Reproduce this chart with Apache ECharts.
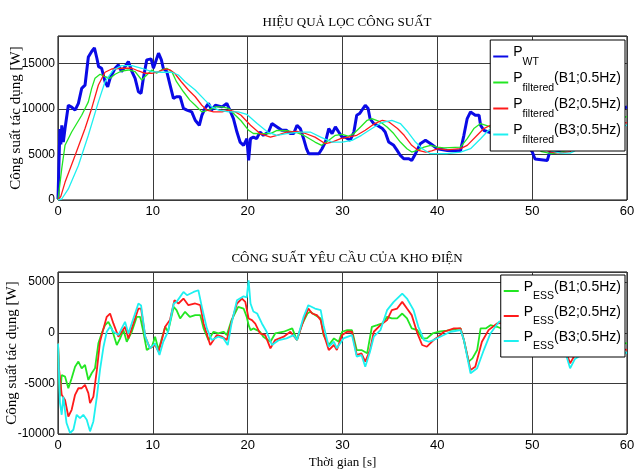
<!DOCTYPE html>
<html>
<head>
<meta charset="utf-8">
<script src="https://cdn.jsdelivr.net/npm/echarts@6/dist/echarts.min.js"></script>
<style>
  html, body { margin: 0; padding: 0; background: #fff; }
  #main { width: 635px; height: 473px; }
</style>
</head>
<body>
<div id="main"></div>
<script>
// Top plot: wind turbine power and filtered power [t (s), P (W)]
const pWT = [[0,100],[0.1,4000],[0.2,7800],[0.3,6100],[0.4,8200],[0.56,6360],[0.74,7840],[1.09,10400],[1.44,10200],[1.8,9860],[2.15,10600],[2.5,12250],[2.85,12600],[3.2,15700],[3.55,16300],[3.84,16700],[4.1,15560],[4.28,14640],[4.6,14460],[4.96,12980],[5.24,12430],[5.49,13360],[6.02,14460],[6.37,14830],[6.7,14090],[7.07,14640],[7.42,15190],[7.8,14090],[8.13,13360],[8.48,11880],[8.76,11700],[9.0,13360],[9.36,15380],[9.82,15490],[10.06,14460],[10.24,15010],[10.6,16120],[10.9,15380],[11.1,14460],[11.47,14090],[11.82,12620],[12.17,11150],[12.5,11330],[12.88,11330],[13.23,10050],[13.6,9860],[14.1,9670],[14.47,8750],[14.9,8200],[15.17,9300],[15.5,10050],[15.87,10600],[16.2,9860],[16.6,10400],[17.3,10220],[17.8,10600],[18.2,9670],[18.5,8940],[18.87,7460],[19.2,6360],[19.57,6000],[19.92,6730],[20.1,4340],[20.3,6730],[20.6,6900],[20.95,6730],[21.3,7460],[21.65,7100],[22.2,7460],[22.56,8390],[23.1,8020],[23.6,7650],[24.1,7650],[24.5,7290],[24.85,7290],[25.2,8200],[25.55,7840],[25.9,6730],[26.2,5630],[26.43,5080],[27.14,5080],[27.5,5080],[27.84,5630],[28.2,6360],[28.55,7840],[28.9,7290],[29.25,8020],[29.6,7460],[29.96,6900],[30.3,6900],[30.8,6550],[31.2,7460],[31.5,9300],[31.8,9490],[32.0,9300],[32.4,10400],[32.7,10050],[32.9,8940],[33.3,8390],[33.65,8200],[34.2,7840],[34.5,7460],[34.87,6360],[35.4,6000],[35.76,5440],[36.1,4890],[36.46,4530],[37.0,4530],[37.3,4340],[37.7,5080],[38.2,6180],[38.75,6550],[39.3,6180],[40.0,5630],[41.05,5440],[41.75,5400],[42.45,5440],[42.8,7100],[43.15,8940],[43.5,9670],[44.0,9300],[44.4,9300],[44.56,8200],[44.9,7650],[45.4,7460],[45.97,7290],[46.3,7100],[46.85,7100],[47.5,6900],[48.2,7000],[48.8,6500],[49.5,6000],[50.0,5300],[50.3,4500],[50.5,4340],[51.6,4340],[51.8,5100],[52.5,5300],[53.5,5600],[54.0,8200],[54.5,8000],[55.5,8300],[56.5,8800],[57.5,9300],[58.5,9700],[59.3,10000],[60,10200]];
const pF1 = [[0,0],[0.39,3420],[0.74,6000],[1.44,7460],[2.5,9300],[3.2,10770],[3.55,12250],[3.9,13360],[4.43,13800],[4.96,13530],[5.49,13360],[6.02,13800],[6.7,14160],[7.42,14270],[8.13,14090],[8.83,13170],[9.36,13720],[9.9,14270],[10.4,13910],[10.9,14270],[11.47,14460],[12,14090],[12.5,12980],[13.23,11880],[13.9,10960],[14.47,10400],[15.17,9670],[15.87,9860],[16.6,10220],[17.3,10220],[18,10050],[18.7,9300],[19.3,8700],[20.1,7650],[20.6,7300],[21.3,7290],[22.4,7290],[23.1,7650],[24.1,7600],[25.2,7400],[25.9,7100],[27.1,6360],[27.8,6000],[28.55,6550],[29.25,7100],[29.96,7200],[30.6,7000],[31.2,7290],[31.9,8020],[32.6,8750],[33.1,8940],[34.0,8570],[34.7,8020],[35.4,7290],[36.1,6360],[36.8,5630],[37.3,5260],[37.9,5440],[38.6,5810],[39.3,6000],[40,5810],[40.7,5720],[42.45,5810],[43.15,6730],[43.85,7840],[44.56,8390],[45.3,8140],[46.3,7650],[47.0,7290],[48,7050],[49,6800],[50,6100],[51,5300],[52,5100],[53,5250],[54,5500],[54.5,6400],[55.5,7500],[56.5,8100],[57.5,8500],[58.5,8800],[59.3,9000],[60,9150]];
const pF2 = [[0,0],[0.3,400],[0.74,1940],[1.8,4890],[2.85,7840],[3.55,10050],[4.26,12620],[4.96,14020],[5.66,14380],[6.7,14460],[7.8,14460],[8.48,14160],[9.2,13910],[9.9,13910],[10.6,14090],[11.3,14380],[11.82,14270],[12.3,13910],[13,12980],[13.75,12070],[14.47,11330],[15.17,10400],[15.7,9860],[16.4,9670],[17.3,9670],[18,9860],[18.7,9670],[19.3,9300],[20.3,8200],[21.3,7290],[22.4,6900],[23.1,7100],[24.1,7460],[25.2,7530],[26.1,7300],[27.1,6900],[28.2,6180],[28.9,6360],[29.8,6730],[30.6,6900],[31.5,7100],[32.4,7650],[33.4,8390],[34.2,8750],[34.9,8570],[35.8,7840],[36.5,7100],[37.3,6000],[38.0,5440],[38.75,5260],[39.4,5400],[40.1,5630],[41,5500],[42.45,5630],[43.15,6000],[44.2,7100],[44.9,7840],[45.6,8200],[46.3,8270],[47.0,8200],[48,7800],[49,7200],[50,6500],[51,5700],[52,5250],[53,5150],[54,5300],[54.5,5800],[55.5,6900],[56.5,7600],[57.5,8000],[58.5,8250],[59.3,8400],[60,8500]];
const pF3 = [[0,0],[0.39,110],[1.09,1210],[2.15,3790],[3.2,7100],[4.26,10770],[4.96,12980],[5.84,14270],[6.7,14750],[7.8,14750],[8.83,14460],[9.9,14090],[10.9,14020],[12,14020],[12.7,13720],[13.4,12980],[14.47,12070],[15.5,10960],[16.2,10220],[16.95,9860],[18,9670],[19.0,9670],[19.9,9400],[21,8390],[22.1,7460],[23.1,7100],[24.1,7290],[25.55,7460],[26.6,7460],[27.7,6900],[28.9,6360],[29.96,6360],[31,6550],[32,7100],[33.1,7840],[34.1,8480],[35.2,8750],[36.1,8390],[36.9,7460],[37.7,6360],[38.4,5630],[39.3,5080],[40.1,5080],[41,5080],[42.45,5260],[43.5,5630],[44.56,6730],[45.4,7650],[46.3,8140],[47.0,8200],[48,7900],[49,7400],[50,6800],[51,6000],[52,5400],[53,5150],[54,5150],[54.5,5400],[55.5,6300],[56.5,7100],[57.5,7600],[58.5,7900],[59.3,8100],[60,8200]];

// Bottom plot: storage power demand [t (s), P (W)]
const pE1 = [[0,-1000],[0.1,-4000],[0.21,-6300],[0.39,-4170],[0.74,-4330],[1.09,-5480],[1.44,-4490],[1.8,-3350],[2.15,-2850],[2.5,-3510],[2.85,-3180],[3.2,-4660],[3.55,-4000],[3.9,-3510],[4.26,-1050],[4.6,-70],[4.96,750],[5.31,1080],[5.66,430],[6.2,-1210],[6.55,-560],[6.9,260],[7.25,-890],[7.78,100],[8.3,1570],[8.66,1570],[9.0,100],[9.36,-1710],[9.9,-1380],[10.24,-390],[10.6,-1710],[10.9,-720],[11.3,590],[11.6,100],[12.2,2560],[12.5,2230],[12.88,1410],[13.4,2070],[13.9,1570],[14.47,1740],[15.0,1740],[15.35,430],[15.87,-720],[16.4,100],[16.9,-70],[17.45,100],[17.8,-230],[18.3,1250],[19.0,2560],[19.57,2390],[19.9,1570],[20.1,750],[20.3,260],[20.6,430],[21.3,100],[21.65,-390],[22.4,-890],[22.9,-70],[23.8,100],[24.7,430],[25.2,-720],[25.7,750],[26.3,1900],[26.6,2070],[27.14,1740],[27.7,1410],[28.0,-230],[28.55,-1210],[29.1,-560],[29.6,-890],[29.96,100],[30.5,260],[31.0,260],[31.5,-1710],[32.0,-1710],[32.6,-2030],[33.1,590],[33.65,750],[34.2,920],[34.7,1570],[35.2,1410],[35.76,1410],[36.3,1900],[36.8,1410],[37.3,430],[37.9,260],[38.4,-560],[38.9,-560],[39.5,-70],[40.1,100],[41.0,200],[41.75,330],[42.45,430],[42.8,-720],[43.3,-2850],[43.7,-2530],[44.2,-1710],[44.56,430],[45.1,430],[45.6,750],[46.3,590],[47.0,330],[47.7,260],[48,50],[49,300],[50,800],[51,960],[52,-200],[53,-350],[54,-2000],[54.5,-1600],[55.5,-800],[56.5,-700],[57.5,-800],[58.5,-900],[59.3,-1000],[60,-1050]];
const pE2 = [[0,-1000],[0.1,-3500],[0.39,-6130],[0.74,-6630],[1.09,-8270],[1.44,-7610],[1.8,-6130],[2.15,-5480],[2.5,-5480],[2.85,-5150],[3.2,-5970],[3.38,-6950],[3.73,-6300],[4.1,-3670],[4.43,-890],[4.8,430],[5.14,1570],[5.49,1900],[5.84,920],[6.37,-390],[6.72,100],[7.07,590],[7.42,-560],[7.95,920],[8.48,2390],[8.76,2390],[9.2,-390],[9.7,-1540],[10.24,-1210],[10.6,-1870],[10.9,-890],[11.3,590],[11.8,1250],[12.28,3210],[12.7,2890],[13.23,3380],[13.75,2720],[14.47,2890],[15.0,2720],[15.35,920],[16.05,-1210],[16.75,-230],[17.3,-390],[17.8,-720],[18.3,1080],[18.87,2890],[19.4,3380],[19.75,3050],[20.1,1410],[20.45,1250],[20.8,900],[21.3,-70],[21.85,-230],[22.4,-1540],[22.9,-720],[23.8,-390],[24.5,100],[25.2,-720],[25.9,1250],[26.4,2390],[26.8,1900],[27.3,1740],[27.7,1250],[28.0,-70],[28.55,-1710],[29.1,-1210],[29.4,-1710],[29.96,-230],[30.5,100],[31.0,100],[31.5,-2200],[32.0,-2030],[32.4,-2850],[32.9,-1710],[33.3,100],[34.0,750],[34.7,1250],[35.2,2230],[35.76,2390],[36.3,3050],[36.8,2390],[37.3,1740],[37.9,-70],[38.4,-1210],[38.9,-1380],[39.6,-720],[40.1,-390],[40.7,100],[41.75,430],[42.45,430],[42.8,-720],[43.5,-3670],[44.0,-3350],[44.7,-890],[45.4,260],[46.3,920],[47.2,980],[47.9,750],[49,700],[50,1200],[51,1360],[52,0],[53,-400],[54,-3020],[54.5,-2200],[55.5,-1400],[56.5,-1200],[57.5,-1300],[58.5,-1450],[59.3,-1600],[60,-1700]];
const pE3 = [[0,-1050],[0.21,-6950],[0.39,-8100],[0.56,-6300],[0.9,-8920],[1.27,-9900],[1.62,-9580],[1.97,-8100],[2.32,-8430],[2.67,-8100],[3.03,-8590],[3.38,-9740],[3.73,-8760],[4.1,-6300],[4.43,-3670],[4.8,-1380],[5.14,100],[5.49,590],[5.84,100],[6.37,-230],[6.72,430],[7.07,1080],[7.42,-70],[7.95,1410],[8.48,2890],[8.76,2700],[9.2,-390],[9.7,-1540],[10.24,-1050],[10.7,-2200],[11.1,-890],[11.6,100],[12.2,2890],[12.5,3050],[13.23,4030],[13.6,3710],[14.3,4030],[14.8,4200],[15.17,2560],[15.7,430],[16.2,-720],[16.9,-390],[17.45,-560],[17.9,-1210],[18.3,920],[18.87,3210],[19.57,3600],[19.9,3500],[20.1,5180],[20.3,2890],[20.6,2100],[21.0,1900],[21.5,920],[22.0,100],[22.56,-1210],[23.3,-720],[24.1,-560],[24.85,-230],[25.2,-720],[25.9,1570],[26.4,2720],[27.1,2390],[27.7,2230],[28.0,750],[28.55,-1380],[29.1,-890],[29.4,-1540],[30.1,-560],[31.0,-230],[31.5,-2360],[32.0,-2200],[32.4,-3350],[32.9,-1870],[33.3,-390],[34.0,260],[34.7,2230],[35.4,3050],[36.3,3870],[36.8,3380],[37.5,2230],[38.0,590],[38.6,-720],[39.1,-890],[39.6,-720],[40.3,-390],[41.4,100],[42.45,260],[42.8,-720],[43.5,-4000],[44.2,-3510],[44.9,-1710],[45.6,-70],[46.5,1080],[47.4,1410],[48.3,1000],[49,900],[50,1500],[51,1660],[52,100],[53,-400],[54,-3510],[54.5,-2600],[55.5,-2000],[56.5,-1700],[57.5,-1700],[58.5,-1800],[59.3,-1900],[60,-2000]];

const xTicks = { min: 0, max: 60, interval: 10 };
const legendTop = { wt: ["P", "WT", ""], f1: ["P", "filtered", "(B1;0.5Hz)"], f2: ["P", "filtered", "(B2;0.5Hz)"], f3: ["P", "filtered", "(B3;0.5Hz)"] };
const legendBottom = { e1: ["P", "ESS", "(B1;0.5Hz)"], e2: ["P", "ESS", "(B2;0.5Hz)"], e3: ["P", "ESS", "(B3;0.5Hz)"] };

const SANS = "'Liberation Sans', Arial, sans-serif";
const SERIF = "'Liberation Serif', 'Times New Roman', serif";

const chart = echarts.init(document.getElementById("main"), null, { renderer: "canvas" });

const makeX = (grid, withName) => ({
    type: "value",
    gridIndex: grid,
    min: xTicks.min,
    max: xTicks.max,
    interval: xTicks.interval,
    axisLine: { show: false, onZero: false },
    axisTick: { show: false },
    axisLabel: { color: "#000", fontFamily: SANS, fontSize: 13, margin: 5 },
    splitLine: { lineStyle: { color: "#3a3a3a", width: 1 } },
    name: withName ? "Thời gian [s]" : "",
    nameLocation: "middle",
    nameGap: 22,
    nameMoveOverlap: false,
    nameTextStyle: { color: "#000", fontFamily: SERIF, fontSize: 13 },
});

const makeY = (grid, min, max, gap) => ({
    type: "value",
    gridIndex: grid,
    min: min,
    max: max,
    interval: 5000,
    axisLine: { show: false, onZero: false },
    axisTick: { show: false },
    axisLabel: {
        color: "#000", fontFamily: SANS, fontSize: 12, margin: 3, showMaxLabel: false,
        formatter: (v) => String(v),
    },
    splitLine: { lineStyle: { color: "#3a3a3a", width: 1 } },
    name: "Công suất tác dụng [W]",
    nameLocation: "middle",
    nameGap: gap,
    nameMoveOverlap: false,
    nameTextStyle: { color: "#000", fontFamily: SERIF, fontSize: 15 },
});

const makeLegend = (names, labels, top, subPad) => ({
    data: names,
    orient: "vertical",
    right: 10,
    top: top,
    padding: [5, 4, 5, 3],
    itemGap: 3,
    itemWidth: 15,
    itemHeight: 2,
    icon: "rect",
    selectedMode: false,
    backgroundColor: "#fff",
    borderColor: "#000",
    borderWidth: 1,
    formatter: (n) => "{p|" + labels[n][0] + "}{s|" + labels[n][1] + "}" + (labels[n][2] ? "{p|" + labels[n][2] + "}" : ""),
    textStyle: {
        color: "#000",
        rich: {
            p: { fontFamily: SANS, fontSize: 14, color: "#000", verticalAlign: "top" },
            s: { fontFamily: SANS, fontSize: 10.5, color: "#000", verticalAlign: "bottom", padding: [subPad, 0, 0, 0] },
        },
    },
});

const line = (name, data, color, width, xi) => ({
    name: name,
    type: "line",
    data: data,
    xAxisIndex: xi,
    yAxisIndex: xi,
    showSymbol: false,
    symbol: "none",
    color: color,
    lineStyle: { color: color, width: width },
    animation: false,
});

const options = {
    animation: false,
    backgroundColor: "#fff",
    title: [
        { text: "HIỆU QUẢ LỌC CÔNG SUẤT", left: 342, top: 11, textAlign: "center",
          textStyle: { fontFamily: SERIF, fontSize: 13, fontWeight: "normal", color: "#000" } },
        { text: "CÔNG SUẤT YÊU CẦU CỦA KHO ĐIỆN", left: 342, top: 247, textAlign: "center",
          textStyle: { fontFamily: SERIF, fontSize: 13, fontWeight: "normal", color: "#000" } },
    ],
    grid: [
        { left: 58, right: 8, top: 36, height: 164, show: true, borderColor: "#000", borderWidth: 1,
          containLabel: false, outerBoundsMode: "none" },
        { left: 58, right: 8, top: 272, height: 162, show: true, borderColor: "#000", borderWidth: 1,
          containLabel: false, outerBoundsMode: "none" },
    ],
    xAxis: [makeX(0, false), makeX(1, true)],
    yAxis: [makeY(0, 0, 18000, 34), makeY(1, -10000, 6000, 38)],
    legend: [
        makeLegend(["wt", "f1", "f2", "f3"], legendTop, 40, 12),
        makeLegend(["e1", "e2", "e3"], legendBottom, 275, 11),
    ],
    series: [
        line("wt", pWT, "#0a0ae6", 3, 0),
        line("f1", pF1, "#22e622", 1.3, 0),
        line("f2", pF2, "#ff1a1a", 1.3, 0),
        line("f3", pF3, "#1ef0f0", 1.3, 0),
        line("e1", pE1, "#22e622", 1.8, 1),
        line("e2", pE2, "#ff1a1a", 1.8, 1),
        line("e3", pE3, "#1ef0f0", 1.8, 1),
    ],
};

chart.setOption(options);
</script>
</body>
</html>
